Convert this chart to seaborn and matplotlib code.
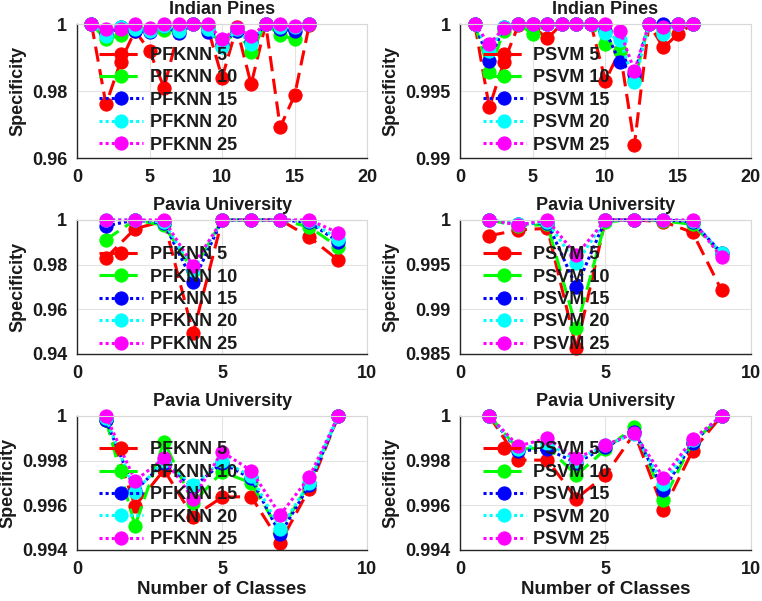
import matplotlib
matplotlib.use("Agg")
import matplotlib.pyplot as plt
import seaborn as sns
import numpy as np
import pandas as pd
from matplotlib.ticker import FuncFormatter

# classes on x axis
ip_classes = list(range(1, 17))
pu_classes = list(range(1, 10))

# Indian Pines - PFKNN
ip_pfknn_5 = [1.0, 0.976, 0.9887, 0.998, 0.992, 0.981, 0.998, 1.0, 0.999, 0.984, 0.999, 0.982, 1.0, 0.9692, 0.9788, 0.9997]
ip_pfknn_10 = [1.0, 0.9954, 0.9967, 0.999, 0.9985, 0.9982, 0.999, 1.0, 0.999, 0.9935, 0.998, 0.9917, 1.0, 0.9967, 0.9954, 1.0]
ip_pfknn_15 = [1.0, 0.997, 0.999, 0.998, 0.9977, 0.9995, 0.9972, 1.0, 0.9977, 0.994, 0.998, 0.9945, 1.0, 0.9985, 0.998, 1.0]
ip_pfknn_20 = [1.0, 0.9965, 0.9992, 0.9985, 0.998, 0.9995, 0.998, 1.0, 0.9985, 0.993, 0.9985, 0.994, 1.0, 0.999, 0.999, 1.0]
ip_pfknn_25 = [1.0, 0.9984, 0.9986, 1.0, 0.9989, 1.0, 1.0, 1.0, 1.0, 0.9954, 0.9987, 0.9964, 1.0, 1.0, 0.9993, 1.0]

# Indian Pines - PSVM
ip_psvm_5 = [1.0, 0.99378, 0.99714, 0.9999, 0.9998, 0.99893, 1.0, 1.0, 1.0, 0.99577, 0.998, 0.9910, 1.0, 0.99825, 0.99925, 1.0]
ip_psvm_10 = [1.0, 0.9964, 0.9995, 1.0, 0.99925, 1.0, 1.0, 1.0, 1.0, 0.9985, 0.998, 0.9958, 1.0, 0.9995, 1.0, 1.0]
ip_psvm_15 = [1.0, 0.99726, 0.9998, 1.0, 1.0, 1.0, 1.0, 1.0, 1.0, 0.9995, 0.99714, 0.9963, 1.0, 1.0, 1.0, 1.0]
ip_psvm_20 = [1.0, 0.998, 0.9998, 1.0, 1.0, 1.0, 1.0, 1.0, 1.0, 0.9993, 0.9988, 0.99565, 1.0, 0.99925, 1.0, 1.0]
ip_psvm_25 = [1.0, 0.9985, 0.9997, 1.0, 1.0, 1.0, 1.0, 1.0, 1.0, 1.0, 0.9995, 0.99652, 1.0, 0.9998, 1.0, 1.0]

# Pavia University (middle row)
pu_pfknn_5 = [0.983, 0.9961, 0.9995, 0.9492, 1.0, 1.0, 1.0, 0.9924, 0.982]
pu_pfknn_10 = [0.9912, 1.0, 0.9976, 0.977, 1.0, 1.0, 1.0, 0.9969, 0.9879]
pu_pfknn_15 = [0.9973, 1.0, 0.9985, 0.9723, 1.0, 1.0, 1.0, 0.999, 0.9902]
pu_pfknn_20 = [1.0, 1.0, 0.999, 0.9775, 1.0, 1.0, 1.0, 0.9995, 0.9915]
pu_pfknn_25 = [1.0, 1.0, 1.0, 0.9795, 1.0, 1.0, 1.0, 1.0, 0.9943]

pu_psvm_5 = [0.99824, 0.99888, 0.99906, 0.98564, 1.0, 1.0, 0.9998, 0.99861, 0.99213]
pu_psvm_10 = [1.0, 0.9993, 0.9995, 0.98789, 0.9998, 1.0, 0.9999, 0.9995, 0.9962]
pu_psvm_15 = [1.0, 0.9995, 0.9997, 0.9925, 1.0, 1.0, 1.0, 0.9998, 0.9963]
pu_psvm_20 = [1.0, 0.9995, 0.9998, 0.99513, 1.0, 1.0, 1.0, 0.9999, 0.99625]
pu_psvm_25 = [1.0, 0.99944, 1.0, 0.99606, 1.0, 1.0, 1.0, 1.0, 0.9958]

# Pavia University (bottom row)
pu2_pfknn_5 = [0.9998, 0.99597, 0.99758, 0.99549, 0.99636, 0.99639, 0.99433, 0.99672, 1.0]
pu2_pfknn_10 = [0.9998, 0.99508, 0.99885, 0.9961, 0.9975, 0.997, 0.9948, 0.997, 1.0]
pu2_pfknn_15 = [0.9998, 0.99665, 0.9979, 0.9968, 0.9979, 0.9972, 0.9947, 0.9969, 1.0]
pu2_pfknn_20 = [0.9999, 0.9966, 0.998, 0.9969, 0.998, 0.9973, 0.99495, 0.997, 1.0]
pu2_pfknn_25 = [1.0, 0.9971, 0.9981, 0.9963, 0.99839, 0.99755, 0.99557, 0.99725, 1.0]

pu2_psvm_5 = [1.0, 0.99802, 0.99802, 0.9963, 0.99735, 0.99922, 0.9958, 0.99843, 1.0]
pu2_psvm_10 = [1.0, 0.9985, 0.9986, 0.99735, 0.9985, 0.99952, 0.99625, 0.9988, 1.0]
pu2_psvm_15 = [1.0, 0.99844, 0.9985, 0.9979, 0.9986, 0.9993, 0.99667, 0.9988, 1.0]
pu2_psvm_20 = [1.0, 0.9985, 0.9988, 0.998, 0.9987, 0.9992, 0.99694, 0.9989, 1.0]
pu2_psvm_25 = [1.0, 0.99865, 0.999, 0.9981, 0.9987, 0.99922, 0.99724, 0.99895, 1.0]

ks = [5, 10, 15, 20, 25]
colors = ['#ff0000', '#00ff00', '#0000ff', '#00ffff', '#ff00ff']
styles = [(0, (5, 2.5)), (0, (5, 2.5)), (0, (1, 1)), (0, (1, 1)), (0, (1, 1))]

sns.set_style("white")
plt.rcParams['font.family'] = ['Liberation Sans', 'DejaVu Sans']
plt.rcParams['font.weight'] = 'bold'
plt.rcParams['text.color'] = '#1a1a1a'
plt.rcParams['axes.labelcolor'] = '#1a1a1a'
plt.rcParams['xtick.color'] = '#1a1a1a'
plt.rcParams['ytick.color'] = '#1a1a1a'

fig = plt.figure(figsize=(7.62, 6.01), dpi=100)

panels = [
    ("Indian Pines", "PFKNN", ip_classes, [ip_pfknn_5, ip_pfknn_10, ip_pfknn_15, ip_pfknn_20, ip_pfknn_25], (0.96, 1), [0.96, 0.98, 1], 20),
    ("Indian Pines", "PSVM", ip_classes, [ip_psvm_5, ip_psvm_10, ip_psvm_15, ip_psvm_20, ip_psvm_25], (0.99, 1), [0.99, 0.995, 1], 20),
    ("Pavia University", "PFKNN", pu_classes, [pu_pfknn_5, pu_pfknn_10, pu_pfknn_15, pu_pfknn_20, pu_pfknn_25], (0.94, 1), [0.94, 0.96, 0.98, 1], 10),
    ("Pavia University", "PSVM", pu_classes, [pu_psvm_5, pu_psvm_10, pu_psvm_15, pu_psvm_20, pu_psvm_25], (0.985, 1), [0.985, 0.99, 0.995, 1], 10),
    ("Pavia University", "PFKNN", pu_classes, [pu2_pfknn_5, pu2_pfknn_10, pu2_pfknn_15, pu2_pfknn_20, pu2_pfknn_25], (0.994, 1), [0.994, 0.996, 0.998, 1], 10),
    ("Pavia University", "PSVM", pu_classes, [pu2_psvm_5, pu2_psvm_10, pu2_psvm_15, pu2_psvm_20, pu2_psvm_25], (0.994, 1), [0.994, 0.996, 0.998, 1], 10),
]

lefts = [0.101, 0.604]
bottoms = [0.737, 0.411, 0.085]
legend_y = [0.91, 0.885, 0.89]

for i, (title, method, xs, series, ylim, yticks, xmax) in enumerate(panels):
    row, col = divmod(i, 2)
    ax = fig.add_axes([lefts[col], bottoms[row], 0.381, 0.223])
    for k, ys, c, ls in zip(ks, series, colors, styles):
        df = pd.DataFrame({'x': xs, 'y': ys})
        sns.lineplot(data=df, x='x', y='y', ax=ax, color=c, linestyle=ls, linewidth=2.2,
                     marker='o', markersize=9.5, markeredgecolor=c, markerfacecolor=c,
                     label=f"{method} {k}", clip_on=False)
    ax.set_xlim(0, xmax)
    ax.set_ylim(*ylim)
    ax.set_xticks(np.arange(0, xmax + 1, 5))
    ax.set_yticks(yticks)
    ax.yaxis.set_major_formatter(FuncFormatter(lambda v, p: f"{v:g}"))
    ax.grid(True, color='#e3e3e3', linewidth=0.8)
    for s in ['top', 'right']:
        ax.spines[s].set_color('#d8d8d8')
    for s in ['left', 'bottom']:
        ax.spines[s].set_color('#262626')
        ax.spines[s].set_linewidth(1.0)
    ax.tick_params(labelsize=13, length=0)
    ax.tick_params(axis='y', pad=7)
    ax.tick_params(axis='x', pad=8)
    for lab in ax.get_xticklabels() + ax.get_yticklabels():
        lab.set_fontweight('bold')
    ax.set_title(title, fontsize=13, fontweight='bold', pad=7)
    ax.set_ylabel("Specificity", fontsize=13, fontweight='bold', labelpad=4)
    if row == 2:
        ax.set_xlabel("Number of Classes", fontsize=13.5, fontweight='bold', labelpad=2)
    else:
        ax.set_xlabel("")
    ax.legend(loc='upper left', bbox_to_anchor=(0.04, legend_y[row]), frameon=False,
              prop={'size': 13, 'weight': 'bold'}, handlelength=2.4,
              labelspacing=0.3, handletextpad=0.4, borderpad=0.1)

plt.savefig("out.png", dpi=100)
